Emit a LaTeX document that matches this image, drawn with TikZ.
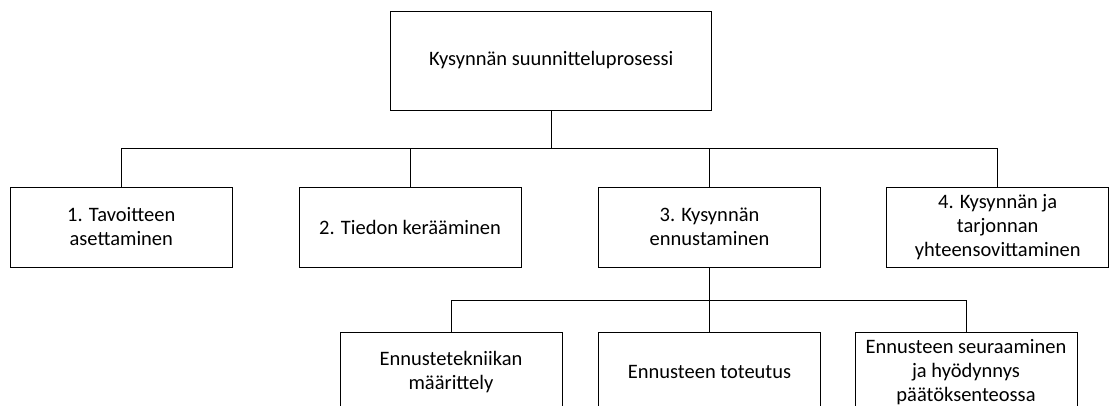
\documentclass[tikz,border=0pt]{standalone}
\usepackage{fontspec}
\setmainfont{Carlito}
\begin{document}
\begin{tikzpicture}[x=1pt,y=-1pt,
  box/.style={draw=black, line width=0.8pt, rectangle, minimum width=222pt, minimum height=80pt, align=center, font=\fontsize{20.5}{24}\selectfont, inner sep=2pt},
  conn/.style={draw=black, line width=0.8pt}]
\clip (0,0) rectangle (1112,405);
\node[box, minimum width=321pt, minimum height=99pt] (top) at (551.3,60.5) {Kysynnän suunnitteluprosessi};
\node[box] (n1) at (121.3,227) {1. Tavoitteen\\asettaminen};
\node[box] (n2) at (410,227) {2. Tiedon kerääminen};
\node[box] (n3) at (709.5,227) {3. Kysynnän\\ennustaminen};
\node[box] (n4) at (997.7,227) {4. Kysynnän ja\\tarjonnan\\yhteensovittaminen};
\node[box] (m1) at (451,372) {Ennustetekniikan\\määrittely};
\node[box] (m2) at (709.5,372) {Ennusteen toteutus};
\node[box] (m3) at (966,372) {Ennusteen seuraaminen\\ja hyödynnys\\päätöksenteossa};
\coordinate (h1) at (551.3,148);
\coordinate (h2) at (709.5,300);
\draw[conn] (top.south) -- (h1);
\draw[conn] (h1) -| (n1.north);
\draw[conn] (h1) -| (n2.north);
\draw[conn] (h1) -| (n3.north);
\draw[conn] (h1) -| (n4.north);
\draw[conn] (n3.south) -- (h2);
\draw[conn] (h2) -| (m1.north);
\draw[conn] (h2) -| (m2.north);
\draw[conn] (h2) -| (m3.north);
\end{tikzpicture}
\end{document}
